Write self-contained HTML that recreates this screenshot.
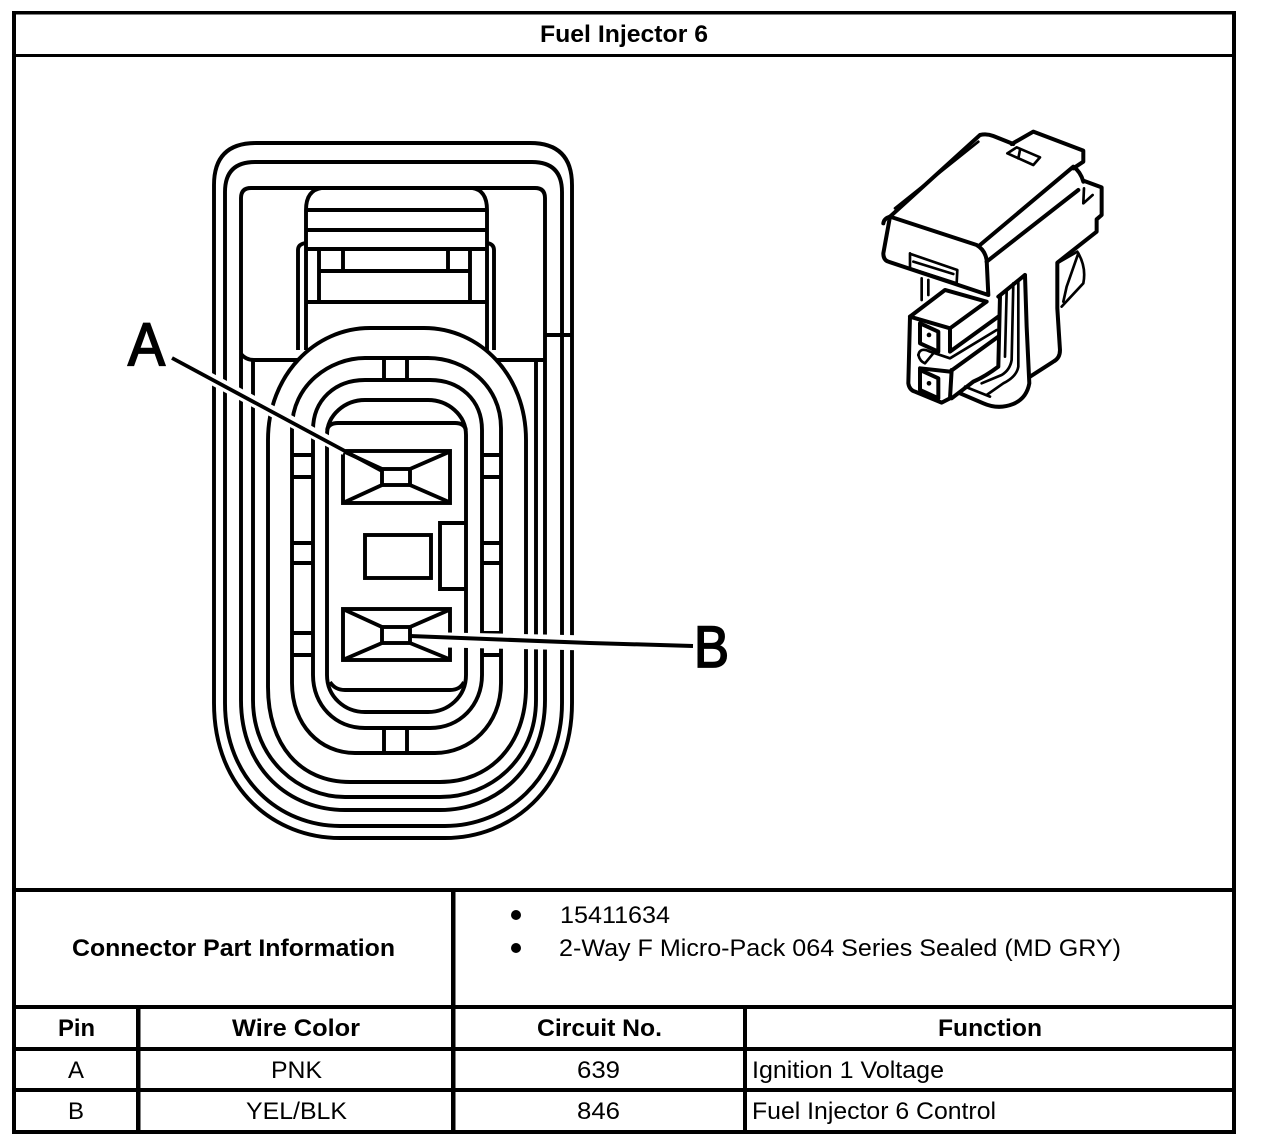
<!DOCTYPE html>
<html><head><meta charset="utf-8"><title>Fuel Injector 6</title>
<style>
html,body{margin:0;padding:0;background:#fff;width:1264px;height:1146px;overflow:hidden}
svg{display:block}
text{font-family:"Liberation Sans",sans-serif;fill:#000;font-size:24px}
.b{font-weight:bold}
.l{fill:none;stroke:#000;stroke-width:3.9}
.w{fill:#fff;stroke:#000;stroke-width:3.9}
.iso{fill:none;stroke:#000;stroke-width:12;stroke-linejoin:round;stroke-linecap:round}
.thin{stroke-width:8}
</style></head><body>
<svg width="1264" height="1146" viewBox="0 0 1264 1146" xmlns="http://www.w3.org/2000/svg">
<rect width="1264" height="1146" fill="#fff"/>

<!-- connector face -->
<g class="l">
<path class="l" d="M214 703V185Q214 143 256 143H530Q572 143 572 185V703C572 790 510 838 445 838H340C275 838 214 790 214 703Z"/>
<path class="l" d="M225 703V192Q225 162 255 162H532Q562 162 562 192V703C562 780 505 826 445 826H340C280 826 225 780 225 703Z"/>
<path class="l" d="M241 700V198Q241 188 251 188H535Q545 188 545 198V700C545 770 495 810 440 810H345C290 810 241 770 241 700Z"/>
<path class="l" d="M545 335H572"/>
<!-- top latch -->
<path class="l" d="M306 210Q306 190 322 188M487 210Q487 190 472 188"/>
<path class="l" d="M306 210H487M306 230H487M306 249H487M319 271H470M306 302H487"/>
<path class="l" d="M306 210V350M487 210V350M298 350V250Q298 244 306 243M494 350V250Q494 244 487 243"/>
<path class="l" d="M319 249V302M470 249V302M343 249V271M448 249V271"/>
<path class="l" d="M241 354Q246 360 254 360H298M494 360H545"/>
<path class="l" d="M253 360V700C253 760 300 797 345 797H440C490 797 536 760 536 700V360"/>
<!-- main seal -->
<path class="w" d="M268 687V440C268 375 315 328 370 328H424C480 328 526 375 526 440V687C526 745 490 782 440 782H350C300 782 268 745 268 687Z"/>
<path class="w" d="M292 683V428C292 385 330 358 365 358H428C465 358 501 385 501 428V683C501 725 470 753 435 753H355C320 753 292 725 292 683Z"/>
<path class="l" d="M292 455H312M292 477H312M292 543H312M292 563H312M292 633H312M292 655H312"/>
<path class="l" d="M482 455H501M482 477H501M482 543H501M482 563H501M482 633H501M482 655H501"/>
<path class="l" d="M384 358V380M407 358V380M384 728V753M407 728V753"/>
<path class="w" d="M313 675V430C313 400 335 380 365 380H430C460 380 482 400 482 430V675C482 705 460 728 430 728H365C335 728 313 705 313 675Z"/>
<path class="w" d="M327 675V435C327 415 345 400 365 400H428C448 400 466 415 466 435V675C466 697 448 712 428 712H365C345 712 327 697 327 675Z"/>
<path class="l" d="M327 430Q329 423 338 423H455Q464 423 466 430M330 682Q335 690 345 690H450Q460 690 464 682"/>
<!-- keys -->
<rect class="l" x="365" y="535" width="66" height="43"/>
<path class="l" d="M466 523H440V589H466"/>
<!-- pin A -->
<rect class="l" x="343" y="451" width="107" height="52"/>
<rect class="l" x="382" y="469" width="28" height="16"/>
<path class="l" d="M345 452L382 469M449 452L410 469M345 502L382 485M449 502L410 485"/>
<!-- pin B -->
<rect class="l" x="343" y="609" width="107" height="51"/>
<rect class="l" x="382" y="627" width="28" height="16"/>
<path class="l" d="M345 610L382 627M449 610L410 627M345 659L382 643M449 659L410 643"/>
</g>

<!-- leaders -->
<path d="M172 358L345 450" fill="none" stroke="#fff" stroke-width="11"/>
<path d="M172 358L382 471" fill="none" stroke="#000" stroke-width="3.8"/>
<path d="M446 640L590 643" fill="none" stroke="#fff" stroke-width="15"/>
<path d="M410 636L590 643L693 646" fill="none" stroke="#000" stroke-width="4"/>
<text x="128" y="365" textLength="37" lengthAdjust="spacingAndGlyphs" style="font-size:60px" stroke="#000" stroke-width="1.8">A</text>
<text x="694" y="667" textLength="35" lengthAdjust="spacingAndGlyphs" style="font-size:58px" stroke="#000" stroke-width="1.8">B</text>

<!-- isometric connector -->
<g transform="translate(870 120) scale(.3333)" class="iso">
<path d="M40 310Q42 295 60 290L330 45Q350 40 370 48L430 72"/>
<path d="M75 265L325 65" class="thin"/>
<path d="M60 290L320 375Q345 390 350 420L355 525L55 425Q40 420 40 400Z"/>
<path d="M425 72L490 35L640 92L640 125L610 145"/>
<path d="M412 100L440 82L510 112L490 135Z" class="thin"/>
<path d="M450 90L445 115" class="thin"/>
<path d="M330 375L610 140Q632 155 640 185"/>
<path d="M350 425L625 210"/>
<path d="M640 182L695 202L695 285L680 298L680 335L562 428L562 565L570 690Q570 715 550 725L480 770"/>
<path d="M642 205L640 250L668 225" class="thin"/>
<path d="M565 428L622 395Q650 440 640 490L575 560" class="thin"/>
<path d="M625 400L590 500L580 545" class="thin"/>
<path d="M120 400L120 445L260 490L262 450L122 402" class="thin"/>
<path d="M130 425L250 462" class="thin"/>
<path d="M155 475V540M175 480V525" class="thin"/>
<path d="M120 590L225 510L350 545L240 625L120 590"/>
<path d="M120 590L115 790Q118 810 135 815L215 848L240 835L245 750"/>
<path d="M240 625L240 695L385 590"/>
<path d="M150 610L205 635V695L150 670Z"/>
<path d="M150 750L205 775V835L150 810Z"/>
<path d="M145 705Q150 680 180 695L240 715L380 630" class="thin"/>
<path d="M145 705Q150 725 165 730L190 700" class="thin"/>
<path d="M150 745L240 755L385 650"/>
<path d="M245 835L310 785Q345 770 385 740L390 530"/>
<path d="M465 465L385 530M465 465L470 620L478 790Q470 835 430 852Q385 870 340 850L270 820"/>
<path d="M430 490L425 720Q420 750 395 765L335 790" class="thin"/>
<path d="M445 480L445 740Q440 770 400 790L350 825" class="thin"/>
<path d="M410 515L405 710" class="thin"/>
<path d="M285 800L360 830" class="thin"/>
<circle cx="177" cy="645" r="7" fill="#000" stroke="none"/>
<circle cx="177" cy="790" r="7" fill="#000" stroke="none"/>
</g>

<!-- table lines -->
<g fill="#000">
<rect x="12" y="11" width="1224" height="3.5"/>
<rect x="12" y="54" width="1224" height="3"/>
<rect x="12" y="888" width="1224" height="4"/>
<rect x="12" y="1005" width="1224" height="4"/>
<rect x="12" y="1047" width="1224" height="4"/>
<rect x="12" y="1088" width="1224" height="4"/>
<rect x="12" y="1130" width="1224" height="4"/>
<rect x="12" y="11" width="4" height="1123"/>
<rect x="1232" y="11" width="4" height="1123"/>
<rect x="451" y="888" width="4.5" height="246"/>
<rect x="136" y="1005" width="4.5" height="129"/>
<rect x="743" y="1005" width="4" height="129"/>
<circle cx="516" cy="915" r="5"/>
<circle cx="516" cy="948" r="5"/>
</g>

<text class="b" x="540" y="42" textLength="168" lengthAdjust="spacingAndGlyphs">Fuel Injector 6</text>
<text class="b" x="72" y="956" textLength="323" lengthAdjust="spacingAndGlyphs">Connector Part Information</text>
<text x="560" y="923" textLength="110" lengthAdjust="spacingAndGlyphs">15411634</text>
<text x="559" y="956" textLength="562" lengthAdjust="spacingAndGlyphs">2-Way F Micro-Pack 064 Series Sealed (MD GRY)</text>
<text class="b" x="58" y="1036" textLength="37" lengthAdjust="spacingAndGlyphs">Pin</text>
<text class="b" x="232" y="1036" textLength="128" lengthAdjust="spacingAndGlyphs">Wire Color</text>
<text class="b" x="537" y="1036" textLength="125" lengthAdjust="spacingAndGlyphs">Circuit No.</text>
<text class="b" x="938" y="1036" textLength="104" lengthAdjust="spacingAndGlyphs">Function</text>
<text x="68" y="1078" textLength="16" lengthAdjust="spacingAndGlyphs">A</text>
<text x="271" y="1078" textLength="51" lengthAdjust="spacingAndGlyphs">PNK</text>
<text x="577" y="1078" textLength="43" lengthAdjust="spacingAndGlyphs">639</text>
<text x="752" y="1078" textLength="192" lengthAdjust="spacingAndGlyphs">Ignition 1 Voltage</text>
<text x="68" y="1119" textLength="16" lengthAdjust="spacingAndGlyphs">B</text>
<text x="246" y="1119" textLength="101" lengthAdjust="spacingAndGlyphs">YEL/BLK</text>
<text x="577" y="1119" textLength="43" lengthAdjust="spacingAndGlyphs">846</text>
<text x="752" y="1119" textLength="244" lengthAdjust="spacingAndGlyphs">Fuel Injector 6 Control</text>
</svg>
</body></html>
